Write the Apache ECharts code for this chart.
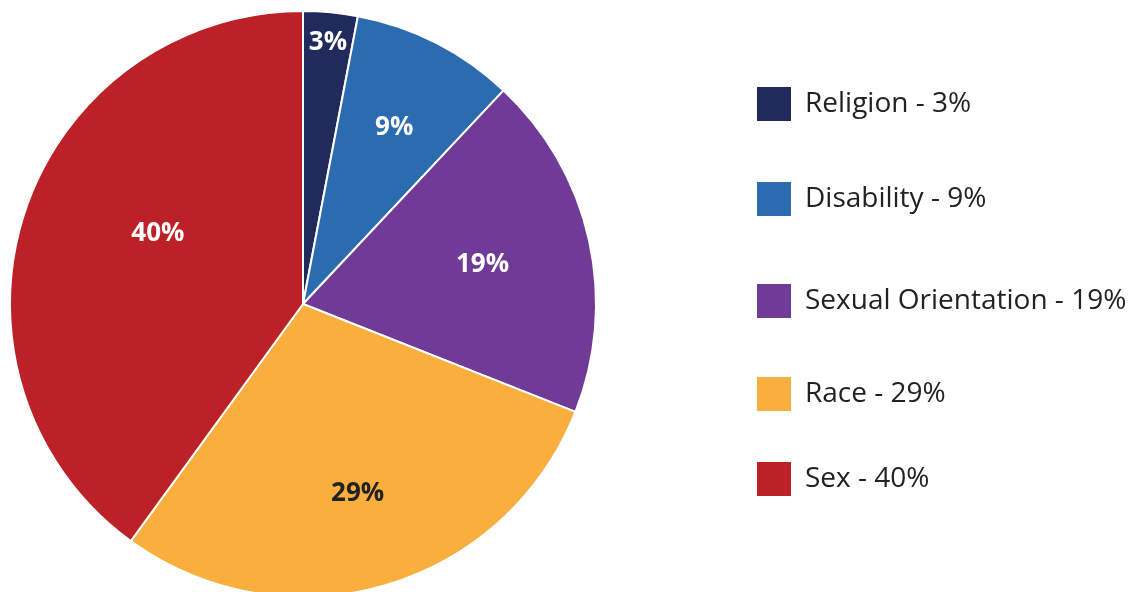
<!DOCTYPE html>
<html><head><meta charset="utf-8">
<script src="https://cdn.jsdelivr.net/npm/echarts@6/dist/echarts.min.js"></script>
<style>html,body{margin:0;padding:0;background:#fff}#c{width:1134px;height:592px}</style>
</head><body><div id="c"></div>
<script>
const categories = ['Religion', 'Disability', 'Sexual Orientation', 'Race', 'Sex'];
const values = [3, 9, 19, 29, 40];
const colors = ['#202A5B', '#2B6CB0', '#6F3B97', '#F9AE3D', '#BC2127'];
const labelColors = ['#ffffff', '#ffffff', '#ffffff', '#222222', '#ffffff'];

const CENTER = [303, 304];
const R = 293;
const labelRadius = [262, 198, 181, 193, 159];
const labelShift = [[0,2],[0,3],[0,1],[0,1],[9,-20]];
const legendTops = [85, 180, 282, 375, 460];
const FONT = 'Open Sans';

const chart = echarts.init(document.getElementById('c'), null, {renderer: 'canvas'});

const mainSeries = {
  type: 'pie', center: CENTER, radius: R, startAngle: 90, clockwise: true,
  silent: true, animation: false,
  itemStyle: {borderColor: '#fff', borderWidth: 2},
  label: {show: false}, labelLine: {show: false},
  data: categories.map((c, i) => ({name: c, value: values[i], itemStyle: {color: colors[i]}}))
};

const labelSeries = categories.map((c, i) => ({
  type: 'pie', center: CENTER, radius: [2 * labelRadius[i] - R, R], startAngle: 90, clockwise: true,
  silent: true, animation: false,
  itemStyle: {color: 'rgba(0,0,0,0)', borderWidth: 0},
  labelLine: {show: false},
  labelLayout: {dx: labelShift[i][0], dy: labelShift[i][1]},
  data: categories.map((c2, j) => ({
    name: c2, value: values[j],
    label: {
      show: j === i, position: 'inside', formatter: '{c}%',
      color: labelColors[j], fontSize: 26, fontWeight: 'bold', fontFamily: FONT
    }
  }))
}));

const legends = categories.map((c, i) => ({
  left: 755, top: legendTops[i], padding: 0, orient: 'vertical',
  icon: 'rect', itemWidth: 36, itemHeight: 36,
  selectedMode: false,
  data: [{name: c, itemStyle: {color: colors[i]}}],
  formatter: n => n + ' - ' + values[i] + '%',
  textStyle: {fontSize: 28, color: '#222', fontFamily: FONT, padding: [0, 0, 0, 8], lineHeight: 36}
}));

chart.setOption({
  backgroundColor: '#fff',
  animation: false,
  legend: legends,
  series: [mainSeries].concat(labelSeries)
});
</script></body></html>
